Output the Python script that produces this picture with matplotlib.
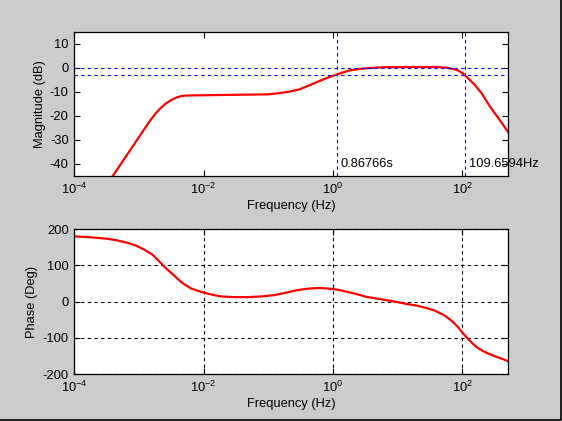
import numpy as np
import matplotlib
matplotlib.use("Agg")
import matplotlib.pyplot as plt
from matplotlib.lines import Line2D

# Значения
mag_freq = [3.93e-4, 6.31e-4, 1.0e-3, 1.41e-3, 1.78e-3, 2.13e-3, 2.55e-3, 3.05e-3,
            3.64e-3, 4.36e-3, 5.20e-3, 7.00e-3, 0.0251, 0.0962, 0.137, 0.208,
            0.305, 0.436, 0.622, 0.838, 1.1525, 1.81, 2.59, 3.70, 5.96, 10.8,
            40.0, 57.1, 72.4, 86.7, 103.8, 123.9, 157.0, 199.5, 268.5, 361.4, 516.4]
mag_db = [-45.0, -36.8, -28.8, -22.8, -19.2, -16.9, -15.0, -13.6,
          -12.5, -11.8, -11.5, -11.4, -11.2, -11.0, -10.6, -9.9,
          -8.9, -7.2, -5.4, -4.0, -2.7, -1.0, -0.4, 0.0, 0.3, 0.4,
          0.4, 0.1, -0.4, -1.0, -2.4, -4.3, -7.0, -10.5, -16.0, -20.8, -26.7]

phase_freq = [1.0e-4, 1.596e-4, 3.25e-4, 4.65e-4, 6.64e-4, 8.93e-4, 1.20e-3, 1.62e-3,
              1.94e-3, 2.31e-3, 2.77e-3, 3.51e-3, 4.20e-3, 5.01e-3, 6.37e-3, 8.07e-3,
              9.89e-3, 0.0130, 0.0186, 0.0299, 0.0481, 0.0774, 0.125, 0.178, 0.213,
              0.270, 0.344, 0.462, 0.622, 0.789, 1.0, 1.346, 1.81, 2.44, 3.29, 4.70,
              6.71, 9.59, 13.7, 19.6, 28.0, 37.7, 50.7, 60.7, 72.4, 86.7, 100.0,
              116.7, 139.6, 166.7, 211.8, 268.5, 340.4, 432.5, 516.4]
phase_deg = [179.7, 177.8, 173.2, 168.5, 162.0, 154.6, 143.4, 129.4,
             115.4, 101.5, 87.5, 71.7, 58.7, 47.5, 36.3, 29.8,
             25.1, 19.6, 14.0, 12.1, 12.1, 14.0, 17.7, 23.3, 26.6,
             30.7, 33.6, 36.3, 37.2, 36.3, 34.4, 30.7, 25.1, 19.6, 13.0, 8.4,
             3.7, -0.9, -6.5, -11.2, -17.7, -25.1, -36.3, -45.6, -56.8, -70.8, -84.7,
             -98.7, -112.7, -125.7, -136.9, -145.3, -152.7, -159.2, -164.8]

f_low = 1 / 0.86766     # Hz, граница -3 дБ снизу
f_high = 109.6594       # Hz, граница -3 дБ сверху
low_label = "0.86766s"
high_label = "109.6594Hz"

x_ticks = [1e-4, 1e-2, 1e0, 1e2]
x_ticklabels = [r"$10^{-4}$", r"$10^{-2}$", r"$10^{0}$", r"$10^{2}$"]
mag_ticks = [-40, -30, -20, -10, 0, 10]
phase_ticks = [-200, -100, 0, 100, 200]

plt.rcParams["font.family"] = ["Liberation Sans", "DejaVu Sans"]
plt.rcParams["font.size"] = 9.3
plt.rcParams["axes.unicode_minus"] = False
plt.rcParams["mathtext.fontset"] = "custom"
plt.rcParams["mathtext.rm"] = "Liberation Sans"
plt.rcParams["mathtext.it"] = "Liberation Sans"
plt.rcParams["mathtext.default"] = "regular"

fig = plt.figure(figsize=(5.62, 4.21), dpi=100, facecolor="#cccccc")
ax1 = fig.add_axes([0.1322, 0.582, 0.7724, 0.342])
ax2 = fig.add_axes([0.1322, 0.1116, 0.7724, 0.3444])

xmin, xmax = 1e-4, 520

for ax in (ax1, ax2):
    ax.set_xscale("log")
    ax.set_xlim(xmin, xmax)
    ax.set_xticks(x_ticks)
    ax.set_xticklabels(x_ticklabels)
    ax.minorticks_off()
    ax.tick_params(direction="in", top=True, right=True, length=4, width=0.8,
                   pad=4, labelsize=9.3, colors="black")
    for s in ax.spines.values():
        s.set_linewidth(0.9)
    ax.set_xlabel("Frequency (Hz)", labelpad=2)

# Амплитуда
ax1.plot(mag_freq, mag_db, color="red", linewidth=1.6)
ax1.axhline(0, color="blue", linestyle=(0, (3, 3)), linewidth=0.8)
ax1.axhline(-3, color="blue", linestyle=(0, (3, 3)), linewidth=0.8)
ax1.axvline(f_low, color="blue", linestyle=(0, (3, 3)), linewidth=0.8)
ax1.axvline(f_high, color="blue", linestyle=(0, (3, 3)), linewidth=0.8)
ax1.set_ylim(-45, 15)
ax1.set_yticks(mag_ticks)
ax1.set_ylabel("Magnitude (dB)", labelpad=3)
ax1.annotate(low_label, xy=(f_low, -40), xytext=(3, 0), textcoords="offset points",
             va="center", ha="left", annotation_clip=False)
ax1.annotate(high_label, xy=(f_high, -40), xytext=(3, 0), textcoords="offset points",
             va="center", ha="left", annotation_clip=False)

# Фаза
ax2.plot(phase_freq, phase_deg, color="red", linewidth=1.6)
ax2.set_ylim(-200, 200)
ax2.set_yticks(phase_ticks)
ax2.set_ylabel("Phase (Deg)", labelpad=3)
ax2.grid(True, color="black", linestyle=(0, (3, 3)), linewidth=0.8)

# рамка окна справа и снизу
fig.add_artist(Line2D([0, 1 - 0.8 / 562, 1 - 0.8 / 562], [0.8 / 421, 0.8 / 421, 1],
                      transform=fig.transFigure, color="black", linewidth=1.2))

fig.savefig("out.png", dpi=100, facecolor=fig.get_facecolor())
